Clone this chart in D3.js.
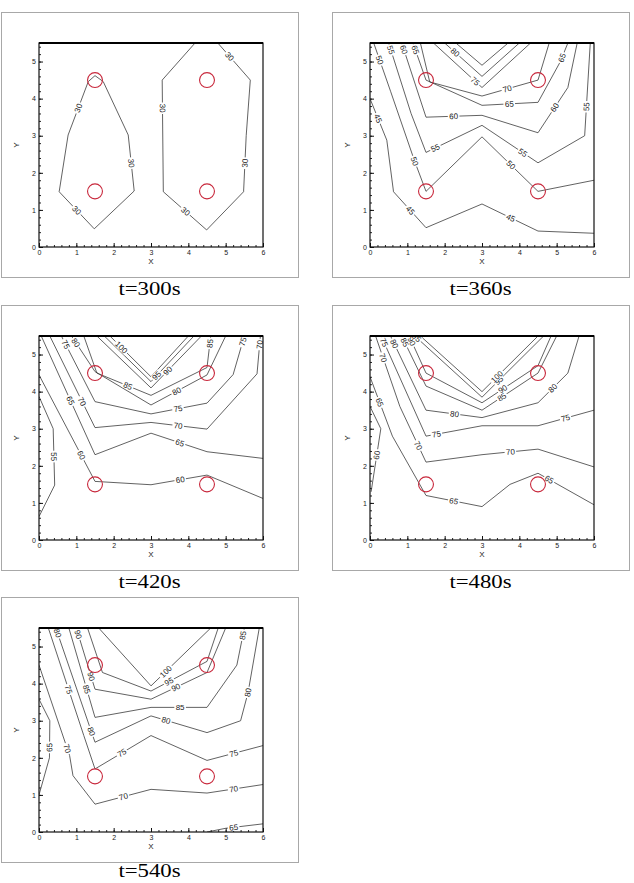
<!DOCTYPE html>
<html>
<head>
<meta charset="utf-8">
<script src="https://cdn.jsdelivr.net/npm/d3@7"></script>
<style>
  body { margin: 0; background: #fff; }
  svg { display: block; }
</style>
</head>
<body>
<svg id="chart"></svg>
<script>
// size
const width = 634;
const height = 883;

// panel titles
const titles = ["t=300s", "t=360s", "t=420s", "t=480s", "t=540s"];

// axis ticks
const xTicks = [0, 1, 2, 3, 4, 5, 6];
const yTicks = [0, 1, 2, 3, 4, 5];

// the four red markers
const sources = [[1.5, 1.5], [1.5, 4.5], [4.5, 1.5], [4.5, 4.5]];

// contour lines, [x, y] in data units, labels = spots along the line
const contours300 = [
  { level: 30, pts: [[1.32, 4.46], [0.78, 3.02], [0.54, 1.49], [1.48, 0.49], [2.55, 1.51], [2.39, 3.02], [1.72, 4.46], [1.5, 4.62], [1.32, 4.46]],
    labels: [[1.07, 3.74], [2.48, 2.26], [1.0, 0.98]] },
  { level: 30, pts: [[4.18, 5.5], [3.3, 4.5], [3.33, 1.49], [4.49, 0.46], [5.48, 1.49], [5.55, 3.0], [5.66, 4.5], [4.79, 5.5]],
    labels: [[5.1, 5.13], [3.3, 3.74], [5.5, 2.26], [3.94, 0.98]] }
];

const contours360 = [
  { level: 45, pts: [[0, 4.0], [0.45, 2.88], [0.63, 1.49], [1.5, 0.52], [3, 1.16], [4.5, 0.43], [6, 0.37]],
    labels: [[0.22, 3.47], [1.07, 0.98], [3.76, 0.77]] },
  { level: 50, pts: [[0.1, 5.5], [0.55, 4.2], [1.2, 2.3], [1.5, 1.5], [3, 2.97], [4.5, 1.5], [6, 1.8]],
    labels: [[0.15, 5.0], [1.16, 2.3], [3.76, 2.2]] },
  { level: 55, pts: [[0.5, 5.5], [1.1, 3.6], [1.5, 2.55], [3, 3.28], [4.5, 2.27], [5.75, 3.0], [5.9, 5.5]],
    labels: [[0.4, 5.26], [1.7, 2.78], [4.16, 2.64], [5.82, 3.78]] },
  { level: 60, pts: [[0.85, 5.5], [1.5, 3.5], [3, 3.55], [4.5, 3.08], [5.3, 4.3], [5.55, 5.5]],
    labels: [[0.72, 5.26], [2.24, 3.52], [4.92, 3.78]] },
  { level: 65, pts: [[1.15, 5.5], [1.5, 4.5], [3, 3.82], [4.5, 3.9], [5.1, 5.0], [5.3, 5.5]],
    labels: [[1.05, 5.26], [3.73, 3.86], [5.15, 5.1]] },
  { level: 70, pts: [[1.35, 5.5], [1.6, 4.45], [3, 4.07], [4.5, 4.5], [4.8, 5.5]],
    labels: [[3.67, 4.28]] },
  { level: 75, pts: [[1.7, 5.5], [3, 4.3], [4.3, 5.5]],
    labels: [[2.8, 4.45]] },
  { level: 80, pts: [[2.0, 5.5], [3, 4.6], [4.0, 5.5]],
    labels: [[2.33, 5.3]] },
  { level: 85, pts: [[2.3, 5.5], [3, 4.9], [3.7, 5.5]],
    labels: [] }
];

const contours420 = [
  { level: 55, pts: [[0, 0.63], [0.42, 1.48], [0.38, 3.0], [0, 3.87]],
    labels: [[0.42, 2.25]] },
  { level: 60, pts: [[0, 4.45], [1.5, 1.58], [3, 1.49], [4.5, 1.75], [6, 1.12]],
    labels: [[1.14, 2.29], [3.78, 1.64]] },
  { level: 65, pts: [[0.06, 5.5], [1.5, 2.3], [3, 2.88], [4.5, 2.38], [6, 2.2]],
    labels: [[0.78, 3.73], [3.78, 2.65]] },
  { level: 70, pts: [[0.29, 5.5], [1.5, 3.03], [3, 3.17], [4.5, 2.99], [5.84, 4.48], [5.93, 5.5]],
    labels: [[1.14, 3.73], [3.73, 3.1], [5.93, 5.27]] },
  { level: 75, pts: [[0.6, 5.5], [1.5, 3.73], [3, 3.4], [4.5, 3.69], [5.2, 4.46], [5.5, 5.5]],
    labels: [[0.69, 5.26], [3.73, 3.5], [5.52, 5.33]] },
  { level: 80, pts: [[0.87, 5.5], [1.5, 4.54], [3, 3.64], [4.5, 4.45], [5.0, 5.5]],
    labels: [[0.96, 5.3], [3.73, 3.93]] },
  { level: 85, pts: [[1.2, 5.5], [1.55, 4.5], [3, 3.9], [4.5, 4.65], [4.6, 5.5]],
    labels: [[2.39, 4.18], [4.58, 5.3]] },
  { level: 90, pts: [[1.55, 5.5], [3, 4.1], [4.35, 5.5]],
    labels: [[3.46, 4.55]] },
  { level: 95, pts: [[1.75, 5.5], [3, 4.27], [4.15, 5.5]],
    labels: [[3.15, 4.43]] },
  { level: 100, pts: [[1.9, 5.5], [3, 4.4], [4.0, 5.5]],
    labels: [[2.21, 5.2]] }
];

const contours480 = [
  { level: 60, pts: [[0.03, 1.3], [0.29, 3.0], [0, 3.6]],
    labels: [[0.18, 2.29]] },
  { level: 65, pts: [[0, 4.4], [0.6, 2.8], [1.5, 1.2], [3, 0.9], [3.75, 1.5], [4.5, 1.8], [6, 0.95]],
    labels: [[0.31, 3.73], [2.24, 1.03], [4.83, 1.68]] },
  { level: 70, pts: [[0.15, 5.5], [0.8, 3.6], [1.5, 2.1], [3, 2.3], [4.5, 2.45], [6, 1.97]],
    labels: [[0.18, 4.85], [1.24, 2.52], [3.76, 2.38]] },
  { level: 75, pts: [[0.3, 5.5], [1.5, 2.8], [3, 3.08], [4.5, 3.08], [6, 3.5]],
    labels: [[0.31, 5.3], [1.77, 2.9], [5.24, 3.28]] },
  { level: 80, pts: [[0.55, 5.5], [1.5, 3.5], [3, 3.3], [4.5, 3.7], [5.3, 4.5], [5.6, 5.5]],
    labels: [[0.58, 5.26], [2.26, 3.37], [4.92, 4.07]] },
  { level: 85, pts: [[0.85, 5.5], [1.5, 4.15], [3, 3.5], [4.5, 4.5], [5.0, 5.5]],
    labels: [[0.81, 5.27], [3.5, 3.9]] },
  { level: 90, pts: [[1.05, 5.5], [1.5, 4.5], [3, 3.7], [4.5, 4.7], [4.85, 5.5]],
    labels: [[1.0, 5.3], [3.6, 4.0]] },
  { level: 95, pts: [[1.2, 5.5], [3, 3.85], [4.65, 5.5]],
    labels: [[1.15, 5.35], [3.55, 4.2]] },
  { level: 100, pts: [[1.35, 5.5], [3, 4.0], [4.5, 5.5]],
    labels: [[3.4, 4.4]] }
];

const contours540 = [
  { level: 65, pts: [[0, 1.0], [0.28, 2.0], [0.29, 3.0], [0, 3.58]],
    labels: [[0.24, 2.28]] },
  { level: 65, pts: [[4.5, 0.0], [5.0, 0.1], [6, 0.22]],
    labels: [[5.21, 0.15]] },
  { level: 70, pts: [[0, 4.5], [0.82, 2.06], [0.91, 1.52], [1.5, 0.75], [3, 1.15], [4.5, 1.05], [6, 1.28]],
    labels: [[0.73, 2.24], [2.26, 0.96], [5.21, 1.18]] },
  { level: 75, pts: [[0.25, 5.5], [1.2, 2.6], [1.5, 1.7], [3, 2.6], [4.5, 1.93], [6, 2.33]],
    labels: [[0.56, 3.76], [2.21, 2.15], [5.21, 2.15]] },
  { level: 80, pts: [[0.45, 5.5], [1.5, 2.42], [3, 3.13], [4.5, 2.68], [5.4, 3.0], [5.6, 3.76], [5.9, 5.5]],
    labels: [[0.29, 5.29], [1.37, 2.7], [3.42, 3.07], [5.61, 3.76]] },
  { level: 85, pts: [[0.8, 5.5], [1.5, 3.09], [3, 3.36], [4.5, 3.36], [5.3, 4.5], [5.5, 5.5]],
    labels: [[1.14, 3.81], [3.78, 3.36], [5.52, 5.29]] },
  { level: 90, pts: [[1.0, 5.5], [1.5, 3.85], [3, 3.58], [4.5, 4.3], [5.0, 5.5]],
    labels: [[1.09, 5.34], [1.32, 4.17], [3.69, 3.85]] },
  { level: 95, pts: [[1.3, 5.5], [1.7, 4.3], [3, 3.8], [4.5, 4.6], [4.8, 5.5]],
    labels: [[3.42, 4.17]] },
  { level: 100, pts: [[1.6, 5.5], [3, 3.94], [4.6, 5.5]],
    labels: [[3.46, 4.26]] }
];

const panelData = [contours300, contours360, contours420, contours480, contours540];

// outer frames of the five panels (top left corners)
const frames = [
  { x: 1, y: 12 }, { x: 332, y: 12 },
  { x: 1, y: 305 }, { x: 332, y: 305 },
  { x: 1, y: 597 }
];
const frameW = 297, frameH = 265;
const plotOff = { left: 38, top: 31, w: 224, h: 204 };

const svg = d3.select("#chart")
    .attr("width", width)
    .attr("height", height)
    .style("font-family", "'Liberation Sans', Arial, sans-serif");

svg.append("rect").attr("width", width).attr("height", height).attr("fill", "#fff");

frames.forEach((f, i) => {
    const g = svg.append("g").attr("transform", `translate(${f.x},${f.y})`);

    // grey outer frame
    g.append("rect")
        .attr("x", 0.5).attr("y", 0.5)
        .attr("width", frameW).attr("height", frameH)
        .attr("fill", "none")
        .attr("stroke", "#a8a8a8")
        .attr("stroke-width", 1);

    const x = d3.scaleLinear().domain([0, 6]).range([plotOff.left, plotOff.left + plotOff.w]);
    const y = d3.scaleLinear().domain([0, 5.5]).range([plotOff.top + plotOff.h, plotOff.top]);

    // clip for the contour lines
    const clipId = "clip" + i;
    g.append("clipPath").attr("id", clipId)
        .append("rect")
        .attr("x", x(0)).attr("y", y(5.5))
        .attr("width", x(6) - x(0)).attr("height", y(0) - y(5.5));

    // minor ticks
    const minor = d3.range(0, 6.01, 0.2);
    const minorY = d3.range(0, 5.41, 0.2);
    g.append("g")
        .attr("transform", `translate(0,${y(0)})`)
        .call(d3.axisBottom(x).tickValues(minor).tickSize(-2).tickFormat(""))
        .call(a => a.select(".domain").remove())
        .call(a => a.selectAll("line").attr("stroke", "#222"));
    g.append("g")
        .attr("transform", `translate(${x(0)},0)`)
        .call(d3.axisLeft(y).tickValues(minorY).tickSize(-2).tickFormat(""))
        .call(a => a.select(".domain").remove())
        .call(a => a.selectAll("line").attr("stroke", "#222"));

    // major ticks with labels
    g.append("g")
        .attr("transform", `translate(0,${y(0)})`)
        .call(d3.axisBottom(x).tickValues(xTicks).tickSize(-4).tickPadding(3).tickFormat(d3.format("d")))
        .call(a => a.select(".domain").remove())
        .call(a => a.selectAll("line").attr("stroke", "#111"))
        .call(a => a.selectAll("text").attr("font-size", 7).attr("fill", "#222").attr("font-family", "'Liberation Sans', Arial, sans-serif"));
    g.append("g")
        .attr("transform", `translate(${x(0)},0)`)
        .call(d3.axisLeft(y).tickValues(yTicks).tickSize(-4).tickPadding(3).tickFormat(d3.format("d")))
        .call(a => a.select(".domain").remove())
        .call(a => a.selectAll("line").attr("stroke", "#111"))
        .call(a => a.selectAll("text").attr("font-size", 7).attr("fill", "#222").attr("font-family", "'Liberation Sans', Arial, sans-serif"));

    // axis titles
    g.append("text")
        .attr("x", (x(0) + x(6)) / 2).attr("y", y(0) + 17)
        .attr("text-anchor", "middle")
        .attr("font-size", 8).attr("fill", "#222")
        .text("X");
    g.append("text")
        .attr("transform", `translate(${x(0) - 20},${(y(0) + y(5.5)) / 2}) rotate(-90)`)
        .attr("text-anchor", "middle")
        .attr("font-size", 8).attr("fill", "#222")
        .text("Y");

    // contour lines
    const line = d3.line().x(d => x(d[0])).y(d => y(d[1]));
    const cg = g.append("g").attr("clip-path", `url(#${clipId})`);
    const data = panelData[i];
    cg.selectAll("path")
        .data(data)
        .enter()
        .append("path")
        .attr("d", d => line(d.pts))
        .attr("fill", "none")
        .attr("stroke", "#3a3a3a")
        .attr("stroke-width", 0.8);

    // contour labels, snapped onto the nearest segment and turned along it
    const labs = [];
    data.forEach(c => {
        c.labels.forEach(p => {
            const px = x(p[0]), py = y(p[1]);
            let best = null;
            for (let k = 0; k < c.pts.length - 1; k++) {
                const ax = x(c.pts[k][0]), ay = y(c.pts[k][1]);
                const bx = x(c.pts[k + 1][0]), by = y(c.pts[k + 1][1]);
                const dx = bx - ax, dy = by - ay;
                const len2 = dx * dx + dy * dy || 1;
                let t = ((px - ax) * dx + (py - ay) * dy) / len2;
                t = Math.max(0, Math.min(1, t));
                const qx = ax + t * dx, qy = ay + t * dy;
                const dist = (qx - px) ** 2 + (qy - py) ** 2;
                if (!best || dist < best.dist) {
                    let ang = Math.atan2(dy, dx) * 180 / Math.PI;
                    if (ang > 90) ang -= 180;
                    if (ang < -90) ang += 180;
                    best = { dist, qx, qy, ang };
                }
            }
            labs.push({ text: String(c.level), ...best });
        });
    });
    const lg = cg.selectAll("g.lab")
        .data(labs)
        .enter()
        .append("g")
        .attr("class", "lab")
        .attr("transform", d => `translate(${d.qx},${d.qy}) rotate(${d.ang})`);
    // small white gap in the line behind each label
    lg.append("rect")
        .attr("x", d => -d.text.length * 2.4 - 1)
        .attr("y", -3.5)
        .attr("width", d => d.text.length * 4.8 + 2)
        .attr("height", 7)
        .attr("fill", "#fff");
    lg.append("text")
        .attr("text-anchor", "middle")
        .attr("dy", "0.35em")
        .attr("font-size", 8)
        .attr("fill", "#1a1a1a")
        .text(d => d.text);

    // red markers
    g.selectAll("circle")
        .data(sources)
        .enter()
        .append("circle")
        .attr("cx", d => x(d[0]))
        .attr("cy", d => y(d[1]))
        .attr("r", x(0.2) - x(0))
        .attr("fill", "none")
        .attr("stroke", "#c8283c")
        .attr("stroke-width", 1.1);

    // plot box, heavier on top
    g.append("rect")
        .attr("x", x(0)).attr("y", y(5.5))
        .attr("width", x(6) - x(0)).attr("height", y(0) - y(5.5))
        .attr("fill", "none")
        .attr("stroke", "#111")
        .attr("stroke-width", 1.2);
    g.append("line")
        .attr("x1", x(0)).attr("x2", x(6))
        .attr("y1", y(5.5)).attr("y2", y(5.5))
        .attr("stroke", "#000")
        .attr("stroke-width", 2);

    // panel caption, kept inside the page at the bottom
    const capY = Math.min(frameH + 18, height - f.y - 6);
    g.append("text")
        .attr("transform", `translate(${frameW / 2},${capY}) scale(1.2,1)`)
        .attr("text-anchor", "middle")
        .attr("font-family", "'Liberation Serif', 'Times New Roman', serif")
        .attr("font-size", 19)
        .attr("fill", "#000")
        .text(titles[i]);
});
</script>
</body>
</html>
